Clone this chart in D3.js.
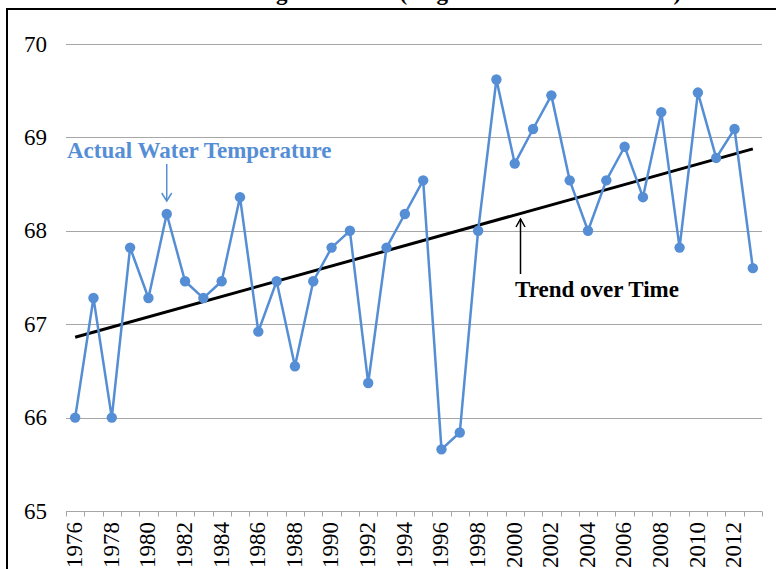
<!DOCTYPE html>
<html>
<head>
<meta charset="utf-8">
<script src="https://cdn.jsdelivr.net/npm/d3@7"></script>
<style>
  html, body { margin: 0; padding: 0; background: #fff; overflow: hidden; }
  svg { display: block; }
  text { font-family: "Liberation Serif", "Times New Roman", serif; }
</style>
</head>
<body>
<svg id="chart" width="776" height="569"></svg>
<script>
const years = [1976,1977,1978,1979,1980,1981,1982,1983,1984,1985,1986,1987,1988,1989,1990,1991,1992,1993,1994,1995,1996,1997,1998,1999,2000,2001,2002,2003,2004,2005,2006,2007,2008,2009,2010,2011,2012,2013];
const temps = [66.0,67.28,66.0,67.82,67.28,68.18,67.46,67.28,67.46,68.36,66.92,67.46,66.55,67.46,67.82,68.0,66.37,67.82,68.18,68.54,65.66,65.84,68.0,69.62,68.72,69.09,69.45,68.54,68.0,68.54,68.9,68.36,69.27,67.82,69.48,68.78,69.09,67.6];
const yTicks = [65,66,67,68,69,70];
const xLabelYears = [1976,1978,1980,1982,1984,1986,1988,1990,1992,1994,1996,1998,2000,2002,2004,2006,2008,2010,2012];
const titleText = "Average Seawater (August Mean Surface Data)";
const seriesLabel = "Actual Water Temperature";
const trendLabel = "Trend over Time";

const blue = "#558ed5";
const FS = 23;
const svg = d3.select("#chart");

const x = d3.scaleBand().domain(years).range([66, 762]);
const y = d3.scaleLinear().domain([65, 70]).range([511, 44]);
const cx = d => x(d) + x.bandwidth() / 2;

// title (clipped at top edge, as in the reference)
const title = svg.append("text")
  .attr("x", 0).attr("y", 0)
  .attr("font-size", FS).attr("font-weight", "bold")
  .text(titleText);
const gi = titleText.indexOf("g");
const gx = title.node().getStartPositionOfChar(gi).x;
title.attr("x", 276 - gx);

// frame
svg.append("rect").attr("x", 7).attr("y", 9).attr("width", 900).attr("height", 700)
  .attr("fill", "none").attr("stroke", "#000").attr("stroke-width", 2);

// gridlines
svg.append("g").selectAll("line").data(yTicks.slice(1)).join("line")
  .attr("x1", 66).attr("x2", 762)
  .attr("y1", d => Math.round(y(d)) + 0.5).attr("y2", d => Math.round(y(d)) + 0.5)
  .attr("stroke", "#a6a6a6").attr("stroke-width", 1);

// y labels
svg.append("g").selectAll("text").data(yTicks).join("text")
  .attr("x", 47).attr("y", d => y(d)).attr("dy", "0.33em")
  .attr("text-anchor", "end").attr("font-size", FS).attr("fill", "#000")
  .text(d => d);

// x axis line + boundary ticks
const xAxisY = Math.round(y(65)) + 0.5;
svg.append("line").attr("x1", 66).attr("x2", 762).attr("y1", xAxisY).attr("y2", xAxisY)
  .attr("stroke", "#a6a6a6").attr("stroke-width", 1);
const bounds = years.map(d => x(d)).concat([x.range()[1]]);
svg.append("g").selectAll("line").data(bounds).join("line")
  .attr("x1", d => Math.round(d) + 0.5).attr("x2", d => Math.round(d) + 0.5)
  .attr("y1", xAxisY).attr("y2", xAxisY + 5)
  .attr("stroke", "#a6a6a6").attr("stroke-width", 1);

// x labels (rotated)
svg.append("g").selectAll("text").data(xLabelYears).join("text")
  .attr("transform", d => `translate(${cx(d) - 1},${522}) rotate(-90)`)
  .attr("text-anchor", "end").attr("dy", "0.34em")
  .attr("font-size", FS).attr("fill", "#000")
  .text(d => d);

// trend line (least squares)
const n = years.length;
const mx = d3.mean(years), my = d3.mean(temps);
let sxy = 0, sxx = 0;
years.forEach((yr, i) => { sxy += (yr - mx) * (temps[i] - my); sxx += (yr - mx) * (yr - mx); });
const slope = sxy / sxx, intercept = my - slope * mx;
const first = years[0], last = years[n - 1];
svg.append("line")
  .attr("x1", cx(first)).attr("y1", y(intercept + slope * first))
  .attr("x2", cx(last)).attr("y2", y(intercept + slope * last))
  .attr("stroke", "#000").attr("stroke-width", 3);

// data line
const data = years.map((yr, i) => ({ yr, v: temps[i] }));
svg.append("path").datum(data)
  .attr("d", d3.line().x(d => cx(d.yr)).y(d => y(d.v)))
  .attr("fill", "none").attr("stroke", blue).attr("stroke-width", 2.5)
  .attr("stroke-linejoin", "round");
svg.append("g").selectAll("circle").data(data).join("circle")
  .attr("cx", d => cx(d.yr)).attr("cy", d => y(d.v)).attr("r", 5.2)
  .attr("fill", blue);

// annotations
svg.append("text").attr("x", 67).attr("y", 158)
  .attr("font-size", FS).attr("font-weight", "bold").attr("fill", blue)
  .text(seriesLabel);
const ax1 = cx(1981);
svg.append("line").attr("x1", ax1).attr("x2", ax1).attr("y1", 164).attr("y2", 201)
  .attr("stroke", blue).attr("stroke-width", 1.5);
svg.append("path").attr("d", `M${ax1 - 5},${193} L${ax1},${201} L${ax1 + 5},${193}`)
  .attr("fill", "none").attr("stroke", blue).attr("stroke-width", 1.5);

svg.append("text").attr("x", 515).attr("y", 297)
  .attr("font-size", FS).attr("font-weight", "bold").attr("fill", "#000")
  .text(trendLabel);
const ax2 = 520.5;
svg.append("line").attr("x1", ax2).attr("x2", ax2).attr("y1", 274).attr("y2", 219)
  .attr("stroke", "#000").attr("stroke-width", 1.5);
svg.append("path").attr("d", `M${ax2 - 4.5},${227} L${ax2},${219} L${ax2 + 4.5},${227}`)
  .attr("fill", "none").attr("stroke", "#000").attr("stroke-width", 1.5);
</script>
</body>
</html>
